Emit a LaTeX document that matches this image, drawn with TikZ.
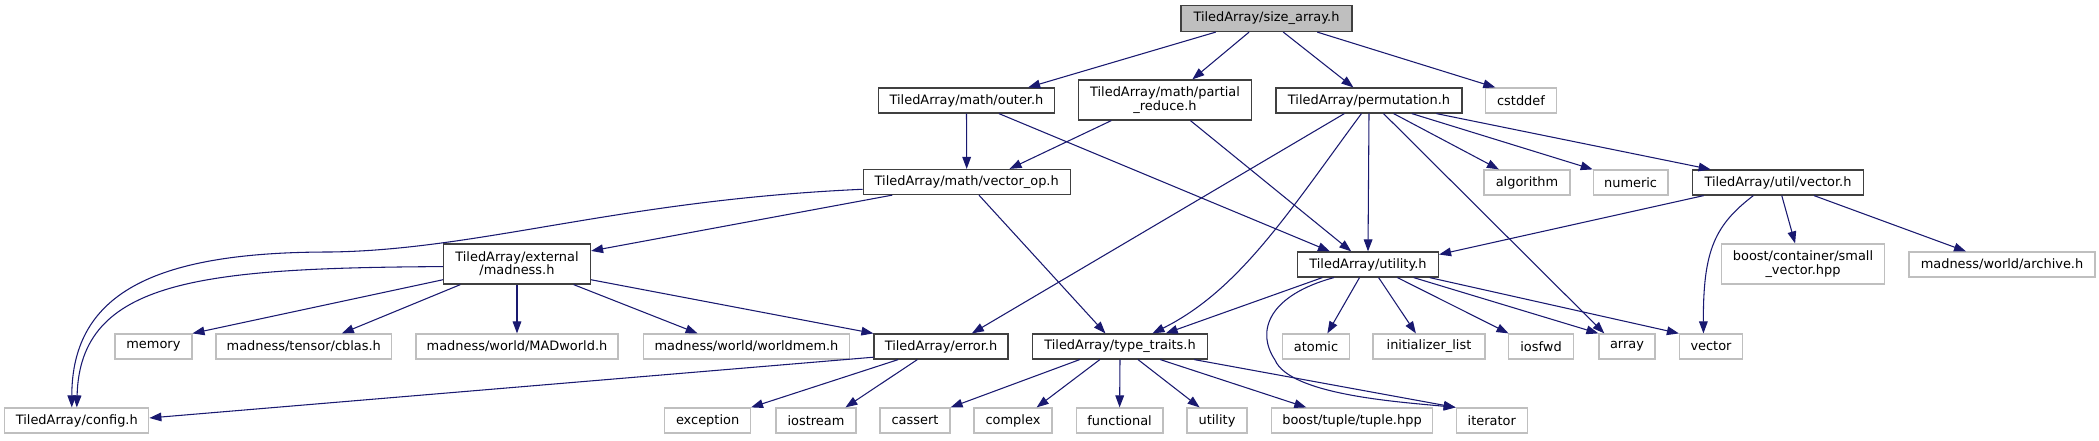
\documentclass[tikz,border=0pt]{standalone}
\usepackage{fontspec}
\setmainfont{DejaVu Sans}
\usetikzlibrary{arrows.meta}
\definecolor{edgeblue}{HTML}{191970}
\definecolor{boxgray}{HTML}{BFBFBF}
\definecolor{boxline}{HTML}{404040}

\begin{document}
\begin{tikzpicture}[x=0.75pt,y=-0.75pt,
    file/.style={draw=boxline,line width=0.9pt,fill=white,inner sep=0pt,
        minimum height=18.75pt,align=center,font=\fontsize{9.7}{10}\selectfont},
    sysfile/.style={file,draw=boxgray},
    rootfile/.style={file,fill=boxgray,minimum height=19.5pt},
    twoline/.style={minimum height=30pt},
    bw/.style={minimum width=#1*0.75pt},
    inc/.style={draw=edgeblue,line width=0.8pt,-{Triangle[length=9pt,width=6.5pt]}}]
    \useasboundingbox (0,0) rectangle (2099,440);

    % top rows
    \node[rootfile,bw=171] (sz) at (1266.5,18.5) {TiledArray/size\_array.h};
    \node[file,bw=176] (outer) at (966.5,100.5) {TiledArray/math/outer.h};
    \node[file,twoline,bw=173] (pred) at (1165,100) {TiledArray/math/partial\\\_reduce.h};
    \node[file,bw=186] (perm) at (1369,100.5) {TiledArray/permutation.h};
    \node[sysfile,bw=71] (cstd) at (1521,100.5) {cstddef};
    \node[file,bw=207] (vop) at (966.7,182) {TiledArray/math/vector\_op.h};
    \node[sysfile,bw=86] (algo) at (1527,182.5) {algorithm};
    \node[sysfile,bw=74.6] (num) at (1630.6,182.5) {numeric};
    \node[file,bw=171] (uvec) at (1778,182.5) {TiledArray/util/vector.h};

    % middle row
    \node[file,twoline,bw=147] (mad) at (517,264) {TiledArray/external\\/madness.h};
    \node[file,bw=141] (util) at (1368,264.5) {TiledArray/utility.h};
    \node[sysfile,twoline,bw=163] (svec) at (1803,264) {boost/container/small\\\_vector.hpp};
    \node[sysfile,bw=186] (arch) at (2002,264.5) {madness/world/archive.h};

    \node[sysfile,bw=77] (mem) at (153.4,346.5) {memory};
    \node[sysfile,bw=175.5] (cblas) at (303.8,346.5) {madness/tensor/cblas.h};
    \node[sysfile,bw=202] (madw) at (517,346.5) {madness/world/MADworld.h};
    \node[sysfile,bw=206] (wmem) at (746.5,346.5) {madness/world/worldmem.h};
    \node[file,bw=134] (err) at (941,346.5) {TiledArray/error.h};
    \node[file,bw=175] (tt) at (1120,346.5) {TiledArray/type\_traits.h};
    \node[sysfile,bw=66.5] (atom) at (1316,346.5) {atomic};
    \node[sysfile,bw=112] (init) at (1429,346.5) {initializer\_list};
    \node[sysfile,bw=65.6] (iosf) at (1541,346.5) {iosfwd};
    \node[sysfile,bw=56] (arr) at (1627,346.5) {array};
    \node[sysfile,bw=63] (vec) at (1711,346.5) {vector};

    % bottom row
    \node[sysfile,bw=144] (cfg) at (76.8,420.5) {TiledArray/config.h};
    \node[sysfile,bw=85.7] (exc) at (707.6,420.5) {exception};
    \node[sysfile,bw=80] (iost) at (816,420.5) {iostream};
    \node[sysfile,bw=70] (cass) at (915,420.5) {cassert};
    \node[sysfile,bw=78] (cplx) at (1013,420.5) {complex};
    \node[sysfile,bw=86.6] (func) at (1119.6,420.5) {functional};
    \node[sysfile,bw=60] (utl) at (1217,420.5) {utility};
    \node[sysfile,bw=160.6] (tup) at (1352,420.5) {boost/tuple/tuple.hpp};
    \node[sysfile,bw=71] (iter) at (1491.8,420.5) {iterator};

    % includes
    \draw[inc] (sz.195.3) -- (outer.12.9);
    \draw[inc] (sz.218.9) -- (pred.37.6);
    \draw[inc] (sz.321.1) -- (perm.140.2);
    \draw[inc] (sz.345.7) -- (cstd.153.4);
    \draw[inc] (outer.south) -- (vop.north);
    \draw[inc] (outer.338.4) -- (util.161.8);
    \draw[inc] (pred.201.8) -- (vop.17.5);
    \draw[inc] (pred.321.3) -- (util.142.5);
    \draw[inc] (perm.208.5) -- (err.23.3);
    \draw[inc] (perm.240.8) .. controls (1290,210) and (1240,290) .. (tt.22);
    \draw[inc] (perm.south) -- (util.north);
    \draw[inc] (perm.318.2) -- (arr.150.4);
    \draw[inc] (perm.332.5) -- (algo.155.2);
    \draw[inc] (perm.343) -- (num.north west);
    \draw[inc] (perm.349) -- (uvec.169.2);
    \draw[inc] (vop.184.4) .. controls (620,200) and (480,250) .. (330,252)
        .. controls (160,252) and (72,290) .. (cfg.111.8);
    \draw[inc] (vop.190.5) -- (mad.10.8);
    \draw[inc] (vop.313.4) -- (tt.138.2);
    \draw[inc] (uvec.190.8) -- (util.8.5);
    \draw[inc] (uvec.208.5) .. controls (1715,225) and (1703,250) .. (vec.120.6);
    \draw[inc] (uvec.286.5) -- (svec.111.8);
    \draw[inc] (uvec.340.3) -- (arch.160.3);
    \draw[inc] (mad.182.9) .. controls (200,268) and (80,280) .. (cfg.north);
    \draw[inc] (mad.192.3) -- (mem.north east);
    \draw[inc] (mad.200.7) -- (cblas.19.6);
    \draw[inc] (mad.south) -- (madw.north);
    \draw[inc] (mad.340.6) -- (wmem.165);
    \draw[inc] (mad.348.5) -- (err.north west);
    \draw[inc] (err.189.7) -- (cfg.2);
    \draw[inc] (err.197.4) -- (exc.north east);
    \draw[inc] (err.209.4) -- (iost.24.8);
    \draw[inc] (tt.198.7) -- (cass.north east);
    \draw[inc] (tt.213.3) -- (cplx.29.8);
    \draw[inc] (tt.south) -- (func.north);
    \draw[inc] (tt.324.5) -- (utl.143.7);
    \draw[inc] (tt.342.5) -- (tup.164.6);
    \draw[inc] (tt.350.9) -- (iter.north west);
    \draw[inc] (util.196.8) -- (tt.16.7);
    \draw[inc] (util.201.8) .. controls (1270,295) and (1255,330) .. (1275,360)
        .. controls (1290,395) and (1400,402) .. (iter.north west);
    \draw[inc] (util.237.4) -- (atom.49.4);
    \draw[inc] (util.309.5) -- (init.135.5);
    \draw[inc] (util.336.5) -- (iosf.158);
    \draw[inc] (util.344) -- (arr.north west);
    \draw[inc] (util.348.3) -- (vec.north west);
\end{tikzpicture}
\end{document}
